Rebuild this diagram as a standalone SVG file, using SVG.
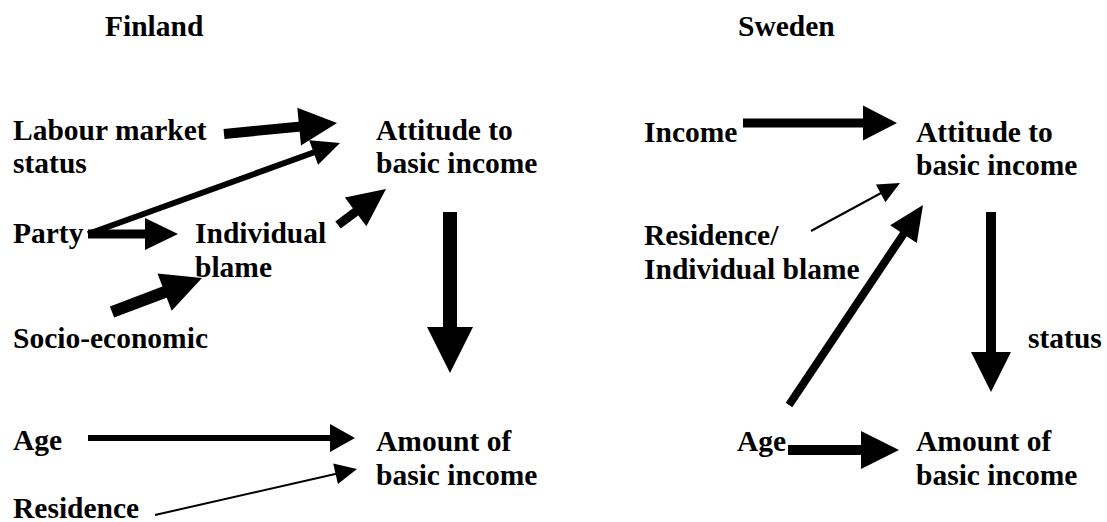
<svg xmlns="http://www.w3.org/2000/svg" width="1107" height="522" viewBox="0 0 1107 522">
<style>
text{font-family:Liberation Serif,Tinos,Times New Roman,DejaVu Serif,serif;font-weight:700;font-size:29.5px;fill:#000}
.shaft{stroke:#000;fill:none;stroke-linecap:butt}
.head{fill:#000;stroke:none}
</style>
<rect width="1107" height="522" fill="#fff"/>
<g id="title-finland"><text x="105" y="36">Finland</text></g>
<g id="title-sweden"><text x="738" y="36">Sweden</text></g>

<g id="fi-labour"><text x="13" y="140">Labour market</text><text x="13" y="173">status</text></g>
<g id="fi-attitude"><text x="376" y="140">Attitude to</text><text x="376" y="173">basic income</text></g>
<g id="fi-party"><text x="13" y="243">Party</text></g>
<g id="fi-blame"><text x="195" y="243">Individual</text><text x="195" y="277">blame</text></g>
<g id="fi-socio"><text x="13" y="348">Socio-economic</text></g>
<g id="fi-age"><text x="13" y="450">Age</text></g>
<g id="fi-amount"><text x="376" y="451">Amount of</text><text x="376" y="485">basic income</text></g>
<g id="fi-residence"><text x="13" y="518">Residence</text></g>

<g id="se-income"><text x="644" y="142">Income</text></g>
<g id="se-attitude"><text x="916" y="142">Attitude to</text><text x="916" y="175">basic income</text></g>
<g id="se-residence"><text x="644" y="245">Residence/</text><text x="644" y="279">Individual blame</text></g>
<g id="se-status"><text x="1028" y="348">status</text></g>
<g id="se-age"><text x="737" y="451">Age</text></g>
<g id="se-amount"><text x="916" y="451">Amount of</text><text x="916" y="485">basic income</text></g>

<g id="connectors">
  <line class="shaft" x1="224" y1="134" x2="301" y2="126.5" stroke-width="10"/>
  <polygon class="head" points="337,123 301,145.6 297.3,107.8"/>

  <line class="shaft" x1="88" y1="234" x2="315.6" y2="151.8" stroke-width="6"/>
  <polygon class="head" points="340,143 318.1,164.7 309.2,140.3"/>

  <line class="shaft" x1="88" y1="234" x2="147" y2="234" stroke-width="9"/>
  <polygon class="head" points="178,234 145,218 145,250"/>

  <line class="shaft" x1="338" y1="225" x2="357.2" y2="210.6" stroke-width="9"/>
  <polygon class="head" points="386,189 366.4,226.2 344.8,197.4"/>

  <line class="shaft" x1="112" y1="312" x2="166.5" y2="291.4" stroke-width="12"/>
  <polygon class="head" points="202,278 171.7,310.8 157.5,273.4"/>

  <line class="shaft" x1="450" y1="212" x2="450" y2="329" stroke-width="14"/>
  <polygon class="head" points="450,373 427,327 473,327"/>

  <line class="shaft" x1="88" y1="438" x2="332" y2="438" stroke-width="6"/>
  <polygon class="head" points="355,438 330,424 330,452"/>

  <line class="shaft" x1="155" y1="515" x2="337.5" y2="473.4" stroke-width="2"/>
  <polygon class="head" points="357,469 337.9,484.1 333.2,463.6"/>

  <line class="shaft" x1="743" y1="123" x2="865" y2="123" stroke-width="9"/>
  <polygon class="head" points="897,123 863,105.5 863,140.5"/>

  <line class="shaft" x1="811" y1="231" x2="882" y2="192.5" stroke-width="2"/>
  <polygon class="head" points="900,183 885.4,202.2 875.9,184.6"/>

  <line class="shaft" x1="789" y1="405" x2="904.6" y2="232.4" stroke-width="8"/>
  <polygon class="head" points="923,205 916.8,243 890.2,225.2"/>

  <line class="shaft" x1="991" y1="212" x2="991" y2="354" stroke-width="10"/>
  <polygon class="head" points="991,392 971,352 1011,352"/>

  <line class="shaft" x1="788" y1="450" x2="863" y2="450" stroke-width="10"/>
  <polygon class="head" points="899,450 861,431 861,469"/>
</g>
</svg>
